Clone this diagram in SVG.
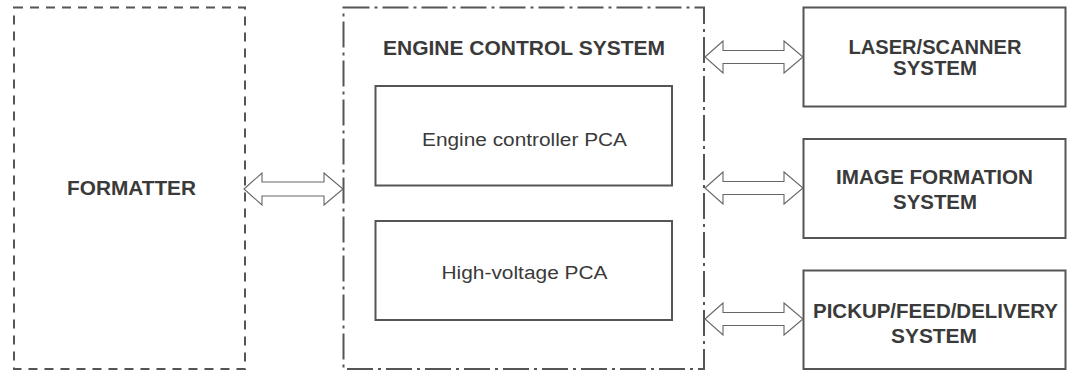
<svg xmlns="http://www.w3.org/2000/svg" width="1068" height="371" viewBox="0 0 1068 371">
<style>
.bx{fill:#fff;stroke:#555;stroke-width:2}
.dash{stroke-dasharray:9 7}
.dashdot{stroke-dasharray:26 5 3 5}
.arr{fill:#fff;stroke:#666;stroke-width:1.1;stroke-linejoin:miter}
.b{font-family:"Liberation Sans",Arial,sans-serif;font-weight:bold;font-size:20.5px;fill:#3a3a3a;text-anchor:middle}
.r{font-family:"Liberation Sans",Arial,sans-serif;font-size:18px;fill:#3a3a3a;text-anchor:middle}
</style>
<rect width="1068" height="371" fill="#fff"/>
<g id="formatter">
<rect class="bx dash" x="14" y="7.5" width="231" height="361.5"/>
<text class="b" x="131.5" y="195" textLength="129" lengthAdjust="spacingAndGlyphs">FORMATTER</text>
</g>
<g id="engine-control-system">
<rect class="bx dashdot" x="343.5" y="7.5" width="360.5" height="361.5"/>
<text class="b" x="524" y="55" textLength="282" lengthAdjust="spacingAndGlyphs">ENGINE CONTROL SYSTEM</text>
</g>
<g id="engine-controller-pca">
<rect class="bx" x="375.5" y="86" width="296.5" height="99.5"/>
<text class="r" x="524.5" y="146" textLength="205" lengthAdjust="spacingAndGlyphs">Engine controller PCA</text>
</g>
<g id="high-voltage-pca">
<rect class="bx" x="375.5" y="221" width="296.5" height="99"/>
<text class="r" x="524.5" y="278.5" textLength="166" lengthAdjust="spacingAndGlyphs">High-voltage PCA</text>
</g>
<g id="laser-scanner">
<rect class="bx" x="803.5" y="7.5" width="262" height="99"/>
<text class="b" x="935" y="54" textLength="173" lengthAdjust="spacingAndGlyphs">LASER/SCANNER</text>
<text class="b" x="935" y="75" textLength="84" lengthAdjust="spacingAndGlyphs">SYSTEM</text>
</g>
<g id="image-formation">
<rect class="bx" x="803.5" y="139" width="262" height="99"/>
<text class="b" x="934.5" y="184" textLength="197" lengthAdjust="spacingAndGlyphs">IMAGE FORMATION</text>
<text class="b" x="935" y="209" textLength="84" lengthAdjust="spacingAndGlyphs">SYSTEM</text>
</g>
<g id="pickup-feed-delivery">
<rect class="bx" x="803.5" y="270.5" width="262" height="98.5"/>
<text class="b" x="935.5" y="318" textLength="245" lengthAdjust="spacingAndGlyphs">PICKUP/FEED/DELIVERY</text>
<text class="b" x="934" y="342.5" textLength="86" lengthAdjust="spacingAndGlyphs">SYSTEM</text>
</g>
<g id="connectors">
<polygon class="arr" points="244,189 262,173 262,182 324,182 324,173 343,189 324,205 324,196 262,196 262,205"/>
<polygon class="arr" points="705,57 723,41 723,50.5 784,50.5 784,41 803,57 784,73 784,63.5 723,63.5 723,73"/>
<polygon class="arr" points="705,188 723,172 723,181.5 784,181.5 784,172 803,188 784,204 784,194.5 723,194.5 723,204"/>
<polygon class="arr" points="705,319 723,303 723,312.5 784,312.5 784,303 803,319 784,335 784,325.5 723,325.5 723,335"/>
</g>
</svg>
